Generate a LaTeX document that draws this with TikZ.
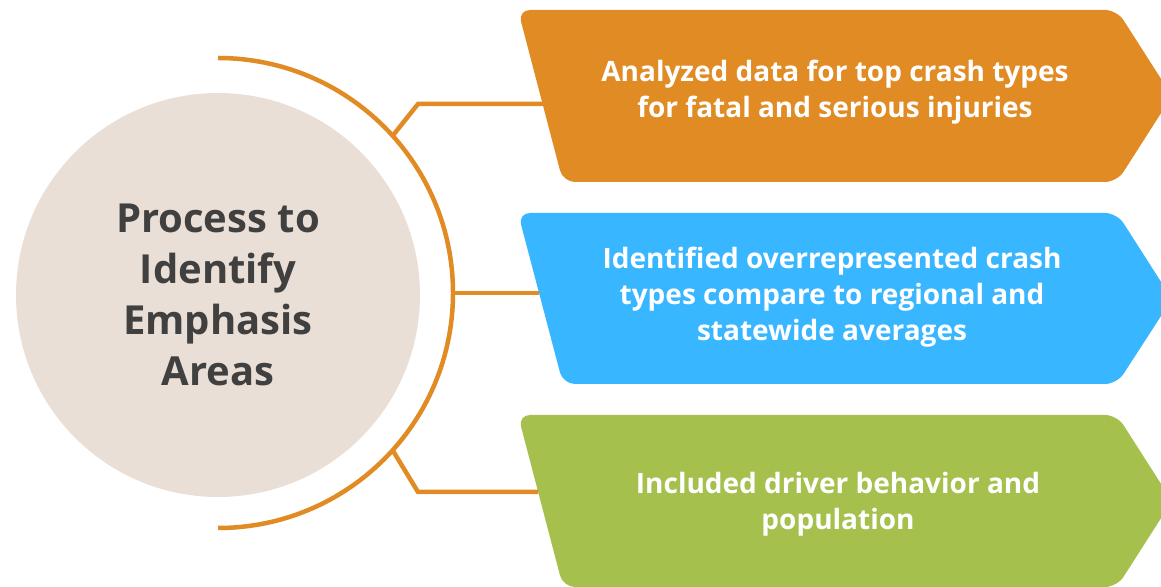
\documentclass[tikz,border=0pt]{standalone}
\usepackage{fontspec}
\setmainfont{Open Sans}
\usepackage{xcolor}
\usetikzlibrary{calc}
\definecolor{crashorange}{RGB}{225,139,36}
\definecolor{crashblue}{RGB}{56,182,255}
\definecolor{crashgreen}{RGB}{165,192,76}
\definecolor{hubbeige}{RGB}{234,223,214}
\definecolor{hubtext}{RGB}{64,64,64}
\tikzset{
  branch/.style={draw=crashorange, line width=4.5pt},
  stepbox/.style={rounded corners=12pt},
  steptext/.style={text=white, align=center, font=\bfseries\fontsize{28}{36}\selectfont},
}

\begin{document}
\begin{tikzpicture}[x=1pt,y=1pt]
    \useasboundingbox (0,0) rectangle (1161,586);
    \clip (0,0) rectangle (1161,586);
    %%Hub circle
    \coordinate (hub) at (218,293);
    \node[circle, fill=hubbeige, minimum size=404pt, inner sep=0pt, text=hubtext,
          align=center, font=\bfseries\fontsize{40}{51}\selectfont] (process) at (218,291)
          {Process to\\Identify\\Emphasis\\Areas};
    \draw[branch] (218,528) arc (90:-90:235);
    %%Step boxes
    \fill[crashorange, stepbox] (518,576) -- (1117,576) -- (1172,490) -- (1117,404) -- (563,404) -- cycle;
    \fill[crashblue, stepbox] (518,373) -- (1117,373) -- (1172,287) -- (1117,202) -- (563,202) -- cycle;
    \fill[crashgreen, stepbox] (518,171) -- (1117,171) -- (1172,85) -- (1117,-1) -- (563,-1) -- cycle;
    \node[steptext] (typesA) at (835,494) {Analyzed data for top crash types\\for fatal and serious injuries};
    \node[steptext] (typesB) at (832,289) {Identified overrepresented crash\\types compare to regional and\\statewide averages};
    \node[steptext] (typesC) at (838,82) {Included driver behavior and\\population};
    %%Branches
    \coordinate (armA) at ([shift={(42:235)}]hub);
    \coordinate (kneeA) at (418,482);
    \coordinate (endA) at (543,482);
    \coordinate (armB) at ([shift={(0:235)}]hub);
    \coordinate (endB) at (539,293);
    \coordinate (armC) at ([shift={(-42:235)}]hub);
    \coordinate (kneeC) at (418,94);
    \coordinate (endC) at (538,94);
    \draw[branch] (armA) -- (kneeA) -- (endA);
    \draw[branch] (armB) -- (endB);
    \draw[branch] (armC) -- (kneeC) -- (endC);
\end{tikzpicture}
\end{document}
